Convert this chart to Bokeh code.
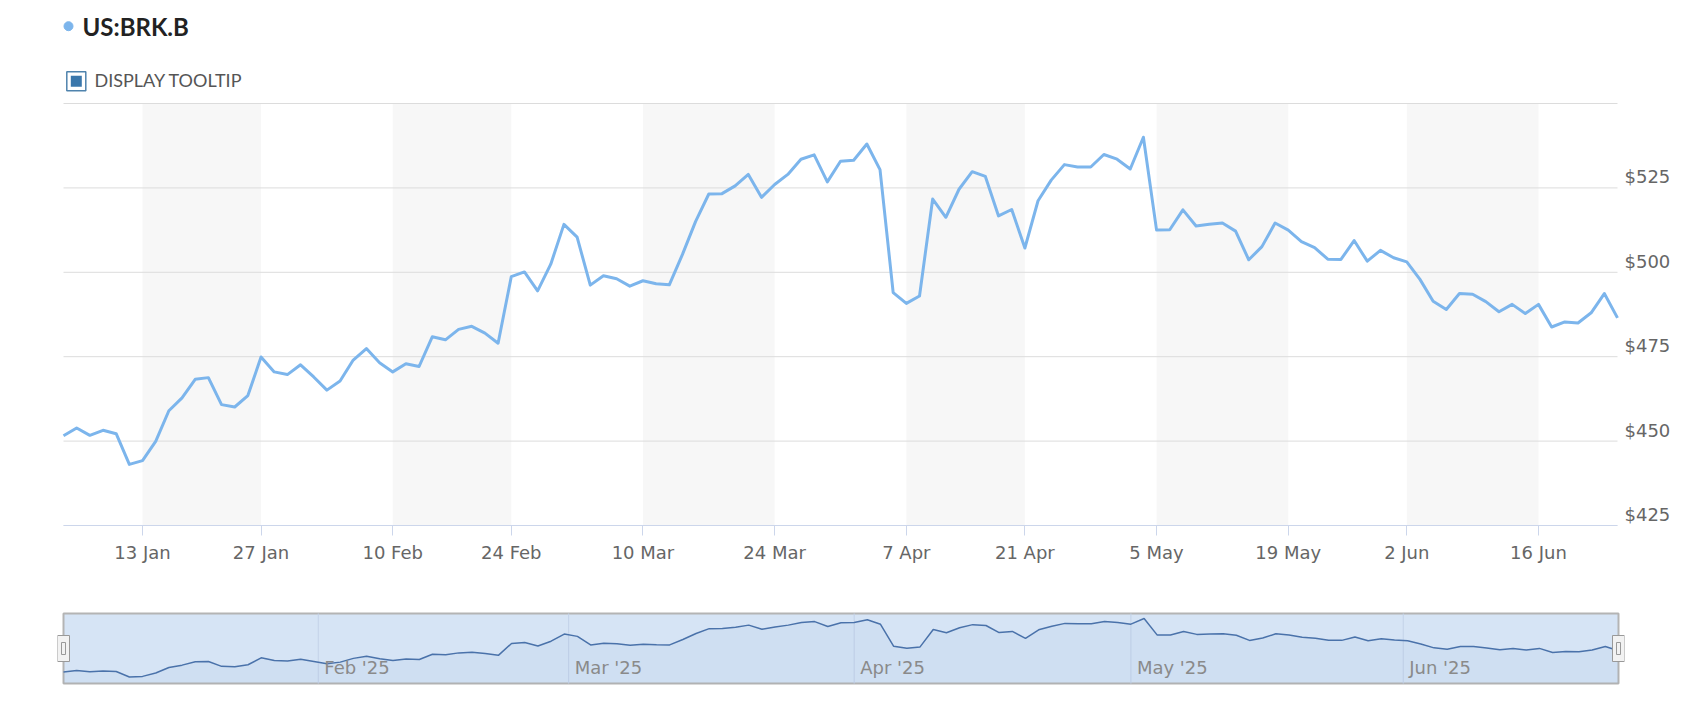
import numpy as np
import pandas as pd
from bokeh.plotting import figure
from bokeh.layouts import column
from bokeh.models import (Range1d, FixedTicker, LinearAxis, ColumnDataSource,
                          PrintfTickFormatter)
from bokeh.core.properties import value
from bokeh.embed import file_html
from bokeh.resources import INLINE

# ---------------- data ----------------
title = "US:BRK.B"
tooltip_label = "DISPLAY TOOLTIP"

# trading days (2025) per month
jan_days = [2, 3, 6, 7, 8, 10, 13, 14, 15, 16, 17, 21, 22, 23, 24, 27, 28, 29, 30, 31]
feb_days = [3, 4, 5, 6, 7, 10, 11, 12, 13, 14, 18, 19, 20, 21, 24, 25, 26, 27, 28]
mar_days = [3, 4, 5, 6, 7, 10, 11, 12, 13, 14, 17, 18, 19, 20, 21, 24, 25, 26, 27, 28, 31]
apr_days = [1, 2, 3, 4, 7, 8, 9, 10, 11, 14, 15, 16, 17, 21, 22, 23, 24, 25, 28, 29, 30]
may_days = [1, 2, 5, 6, 7, 8, 9, 12, 13, 14, 15, 16, 19, 20, 21, 22, 23, 27, 28, 29, 30]
jun_days = [2, 3, 4, 5, 6, 9, 10, 11, 12, 13, 16, 17, 18, 20, 23, 24, 25]

close = [
    451.6, 453.9, 451.7, 453.2, 452.2, 443.1, 444.2, 449.9, 459.0, 462.8,
    468.3, 468.8, 460.8, 460.1, 463.5, 474.9, 470.5, 469.7, 472.6, 469.0,
    465.1, 467.8, 474.0, 477.4, 473.2, 470.5, 472.9, 472.1, 480.9, 480.0,
    483.1, 484.0, 482.0, 479.0, 498.7, 500.1, 494.5, 502.4, 514.2, 510.4,
    496.2, 499.0, 498.1, 495.9, 497.5, 496.6, 496.3, 505.3, 515.1, 523.2,
    523.3, 525.6, 529.0, 522.2, 526.0, 529.0, 533.5, 534.8, 526.8, 532.9,
    533.2, 538.0, 530.4, 494.0, 490.8, 493.0, 521.7, 516.3, 524.6, 529.8,
    528.4, 516.7, 518.6, 507.2, 521.2, 527.3, 531.9, 531.2, 531.2, 534.9,
    533.5, 530.6, 540.0, 512.5, 512.6, 518.5, 513.7, 514.2, 514.6, 512.2,
    503.7, 507.6, 514.6, 512.5, 509.1, 507.3, 503.9, 503.8, 509.4, 503.3,
    506.5, 504.3, 503.1, 497.9, 491.4, 489.0, 493.7, 493.5, 491.3, 488.3,
    490.5, 487.8, 490.5, 483.8, 485.3, 485.0, 488.0, 493.7, 486.5,
]

x_tick_dates = ["2025-01-13", "2025-01-27", "2025-02-10", "2025-02-24", "2025-03-10",
                "2025-03-24", "2025-04-07", "2025-04-21", "2025-05-05", "2025-05-19",
                "2025-06-02", "2025-06-16"]
y_tick_values = [425, 450, 475, 500, 525]
y_grid_values = [425, 450, 475, 500, 525, 550]
nav_month_dates = ["2025-02-01", "2025-03-01", "2025-04-01", "2025-05-01", "2025-06-01"]
nav_month_labels = ["Feb '25", "Mar '25", "Apr '25", "May '25", "Jun '25"]

# ---------------- derived ----------------
dates = []
for m, days in zip(range(1, 7), [jan_days, feb_days, mar_days, apr_days, may_days, jun_days]):
    dates += [pd.Timestamp(2025, m, d) for d in days]
n = len(dates)
idx = list(range(n))
date_ord = np.array([d.toordinal() for d in dates], dtype=float)

tick_idx = [dates.index(pd.Timestamp(t)) for t in x_tick_dates]
tick_lab = {i: f"{dates[i].day} {dates[i].strftime('%b')}" for i in tick_idx}

band_left = tick_idx[0::2]
band_right = tick_idx[1::2]

nav_pos = [float(np.interp(pd.Timestamp(t).toordinal(), date_ord, idx)) for t in nav_month_dates]

src = ColumnDataSource(dict(x=idx, y=close))

# ---------------- layout constants (pixels) ----------------
W = 1680
L, R = 57, 56            # common left/right borders -> frame 57..1624
LINE = "#7cb5ec"
AX_FONT = "DejaVu Sans"
TXT_SHIFT = 8            # text glyph baseline correction


def base_fig(**kw):
    p = figure(width=W, output_backend="svg", toolbar_location=None, title=None, **kw)
    p.min_border_left = L
    p.min_border_right = R
    p.outline_line_color = None
    return p


# ---------------- header ----------------
H0 = 95
p0 = base_fig(height=H0, x_range=Range1d(L, W - R), y_range=Range1d(H0, 0),
              x_axis_location=None, y_axis_location=None)
p0.min_border_top = 0
p0.min_border_bottom = 0
p0.grid.visible = False
p0.scatter(x=[68], y=[25.7], size=9, color=LINE)
p0.text(x=[82], y=[34.3 - TXT_SHIFT], text=[title], text_font=value("Lato"),
        text_font_style="bold", text_font_size="24px", text_color="#222222",
        text_baseline="alphabetic")
p0.rect(x=[75.8], y=[80.7], width=19, height=19, fill_color="white",
        line_color="#4f83ad", line_width=1.5)
p0.rect(x=[75.8], y=[80.7], width=11, height=11, fill_color="#3a77ab", line_color=None)
p0.text(x=[94], y=[87.3 - TXT_SHIFT], text=[tooltip_label], text_font=value("Lato"),
        text_font_size="18px", text_color="#555555", text_baseline="alphabetic")

# ---------------- main chart ----------------
Y0, Y1 = 425, 550
TOP1, FRAME_H1, BOT1 = 7, 423, 73
H1 = TOP1 + FRAME_H1 + BOT1
ppd1 = (FRAME_H1 - 1) / (Y1 - Y0)     # pixels per dollar
YTOP = Y1 + 1 / ppd1
px1 = 1554 / (n - 1)                  # pixels per trading day
p1 = base_fig(height=H1, x_range=Range1d(-6 / px1, n - 1 + 7 / px1),
              y_range=Range1d(Y0, YTOP), y_axis_location=None)
p1.min_border_top = TOP1
p1.min_border_bottom = BOT1
p1.grid.visible = False

bands = p1.quad(left=band_left, right=band_right, bottom=Y0, top=Y1,
                fill_color="#f7f7f7", line_color=None)
bands.level = "image"

ng = len(y_grid_values)
grid = p1.segment(x0=[0] * ng, y0=y_grid_values, x1=[n - 1] * ng, y1=y_grid_values,
                  line_color="#dcdcdc", line_width=1)
grid.level = "underlay"

raise_px = 11
d = raise_px / ppd1
p1.extra_y_ranges = {"lab": Range1d(Y0 - d, YTOP - d)}
yax = LinearAxis(y_range_name="lab", ticker=FixedTicker(ticks=y_tick_values),
                 formatter=PrintfTickFormatter(format="$%d"))
yax.axis_line_color = None
yax.major_tick_line_color = None
yax.minor_tick_line_color = None
yax.major_tick_out = 0
yax.major_tick_in = 0
yax.major_label_standoff = 0
yax.major_label_text_font = AX_FONT
yax.major_label_text_font_size = "18px"
yax.major_label_text_color = "#666666"
p1.add_layout(yax, "right")

xa = p1.xaxis[0]
xa.ticker = FixedTicker(ticks=tick_idx)
xa.bounds = (0, n - 1)
xa.major_label_overrides = tick_lab
xa.axis_line_color = "#ccd6eb"
xa.axis_line_width = 1
xa.major_tick_line_color = "#ccd6eb"
xa.major_tick_out = 10
xa.major_tick_in = 0
xa.minor_tick_line_color = None
xa.major_label_standoff = 6
xa.major_label_text_font = AX_FONT
xa.major_label_text_font_size = "18px"
xa.major_label_text_color = "#666666"

p1.line("x", "y", source=src, line_color=LINE, line_width=3, line_join="round")

# ---------------- navigator ----------------
TOP2, FRAME_H2, BOT2 = 12, 76, 8
H2 = TOP2 + FRAME_H2 + BOT2
span = max(close) - min(close)
nav_lo = min(close) - 0.11 * span
nav_hi = max(close) + 0.085 * span
ppd = (FRAME_H2 - 6) / (nav_hi - nav_lo)
px2 = 1555 / (n - 1)
p2 = base_fig(height=H2, x_range=Range1d(-6 / px2, n - 1 + 6 / px2),
              y_range=Range1d(nav_lo - 3 / ppd, nav_hi + 3 / ppd),
              x_axis_location=None, y_axis_location=None)
p2.min_border_top = TOP2
p2.min_border_bottom = BOT2
p2.grid.visible = False

p2.quad(left=[0], right=[n - 1], bottom=[nav_lo], top=[nav_hi],
        fill_color="#d6e4f5", line_color="#b4b4b4", line_width=2)
p2.segment(x0=nav_pos, y0=[nav_lo] * len(nav_pos), x1=nav_pos, y1=[nav_hi] * len(nav_pos),
           line_color="#c3d2e8", line_width=1)
p2.varea(x=idx, y1=[nav_lo] * n, y2=close, fill_color="#335cad", fill_alpha=0.04)
p2.line(x=idx, y=close, line_color="#4a72aa", line_width=1.5)
p2.text(x=nav_pos, y=[nav_lo] * len(nav_pos), text=nav_month_labels, x_offset=6,
        y_offset=-8 - TXT_SHIFT, text_font=value(AX_FONT), text_font_size="18px",
        text_color="#8a8a8a", text_baseline="alphabetic")

mid = (nav_lo + nav_hi) / 2
p2.rect(x=[0, n - 1], y=[mid, mid], width=12, height=26, width_units="screen",
        height_units="screen", fill_color="#f2f2f2", line_color="#999999", line_width=1)
p2.rect(x=[0, n - 1], y=[mid, mid], width=4, height=12, width_units="screen",
        height_units="screen", fill_alpha=0, line_color="#999999", line_width=1)

layout = column(p0, p1, p2)
open("out.html", "w").write(file_html(layout, INLINE))
